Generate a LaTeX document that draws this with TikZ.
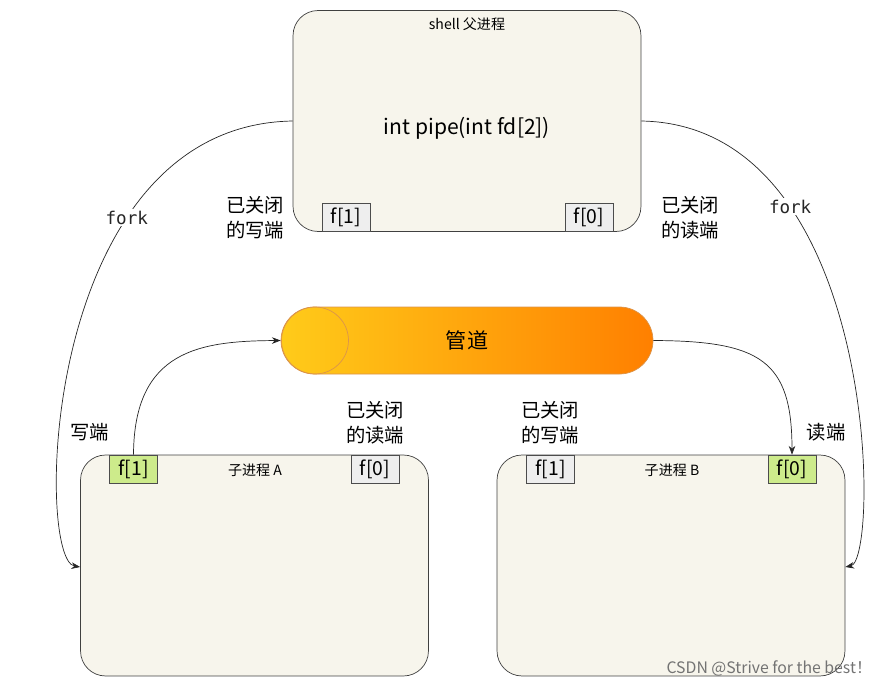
\documentclass[tikz,border=0pt]{standalone}
\usepackage{fontspec}
\setmainfont{Noto Sans CJK SC}
\newfontfamily\forkfont{DejaVu Sans Mono}
\usetikzlibrary{positioning, calc, arrows.meta}
\definecolor{procfill}{HTML}{F7F5EC}
\definecolor{fdgray}{HTML}{EEEEEE}
\definecolor{fdgreen}{HTML}{CDEB8B}
\tikzset{
  proc/.style={draw=black!75, fill=procfill, rounded corners=0.5cm, minimum width=6.96cm, minimum height=4.42cm},
  fdbox/.style={draw=black!70, fill=fdgray, minimum width=0.96cm, minimum height=0.56cm, inner sep=0pt, font=\fontsize{11}{13}\selectfont},
  fdon/.style={fdbox, fill=fdgreen},
  lbl/.style={align=center, font=\fontsize{11}{14}\selectfont},
  arr/.style={-{Stealth[length=5pt]}, black!85}
}
\begin{document}
\begin{tikzpicture}[x=0.02cm, y=-0.02cm]
    \useasboundingbox (0,0) rectangle (883,686);
    % processes
    \node[proc] (parent) at (467,121) {};
    \node[proc] (childA) at (254.5,565.5) {};
    \node[proc] (childB) at (671,565.5) {};
    \node[font=\fontsize{8}{10}\selectfont] (ptitle) at (467,24) {shell 父进程};
    \node[font=\fontsize{12}{14}\selectfont] (call) at (467,128) {int pipe(int fd[2])};
    \node[font=\fontsize{8}{10}\selectfont] (atitle) at (255,470) {子进程 A};
    \node[font=\fontsize{8}{10}\selectfont] (btitle) at (672,470) {子进程 B};
    % file descriptors
    \node[fdbox] (pf1) at (346,217.5) {f[1]};
    \node[fdbox] (pf0) at (589,217.5) {f[0]};
    \node[fdon] (af1) at (133.5,469) {f[1]};
    \node[fdbox] (af0) at (375,469) {f[0]};
    \node[fdbox] (bf1) at (550.5,469) {f[1]};
    \node[fdon] (bf0) at (792,469) {f[0]};
    % pipe
    \shade[left color=orange!45!yellow!90, right color=orange, draw=orange!80!black!70, rounded corners=0.67cm]
        (281,307) rectangle (653,374);
    \draw[orange!80!black!70] (315,340.5) circle (0.67cm);
    \node[minimum width=7.44cm, minimum height=1.34cm, font=\fontsize{12}{14}\selectfont] (pipe) at (467,340.5) {管道};
    % labels
    \node[lbl] (l1) at (255,218) {已关闭\\的写端};
    \node[lbl] (l2) at (690,218) {已关闭\\的读端};
    \node[lbl] (l3) at (90,432) {写端};
    \node[lbl] (l4) at (375,423) {已关闭\\的读端};
    \node[lbl] (l5) at (550,423) {已关闭\\的写端};
    \node[lbl] (l6) at (826,432) {读端};
    % connectors
    \draw[arr] (parent.west |- 0,121) .. controls (40,125) and (35,560) .. (childA.west |- 0,567)
        node[pos=0.3, fill=white, inner sep=1pt, font=\forkfont\fontsize{10}{12}\selectfont] (fk1) {fork};
    \draw[arr] (parent.east |- 0,121) .. controls (880,125) and (880,560) .. (childB.east |- 0,567)
        node[pos=0.28, fill=white, inner sep=1pt, font=\forkfont\fontsize{10}{12}\selectfont] (fk2) {fork};
    \draw[arr] (af1.north) .. controls (134,350) and (200,341) .. (pipe.west);
    \draw[arr] (pipe.east) .. controls (760,341) and (792,360) .. (bf0.north);
    \node[anchor=east, text=black!55, font=\fontsize{9}{11}\selectfont] (mark) at (878,668) {CSDN @Strive for the best！};
\end{tikzpicture}
\end{document}
